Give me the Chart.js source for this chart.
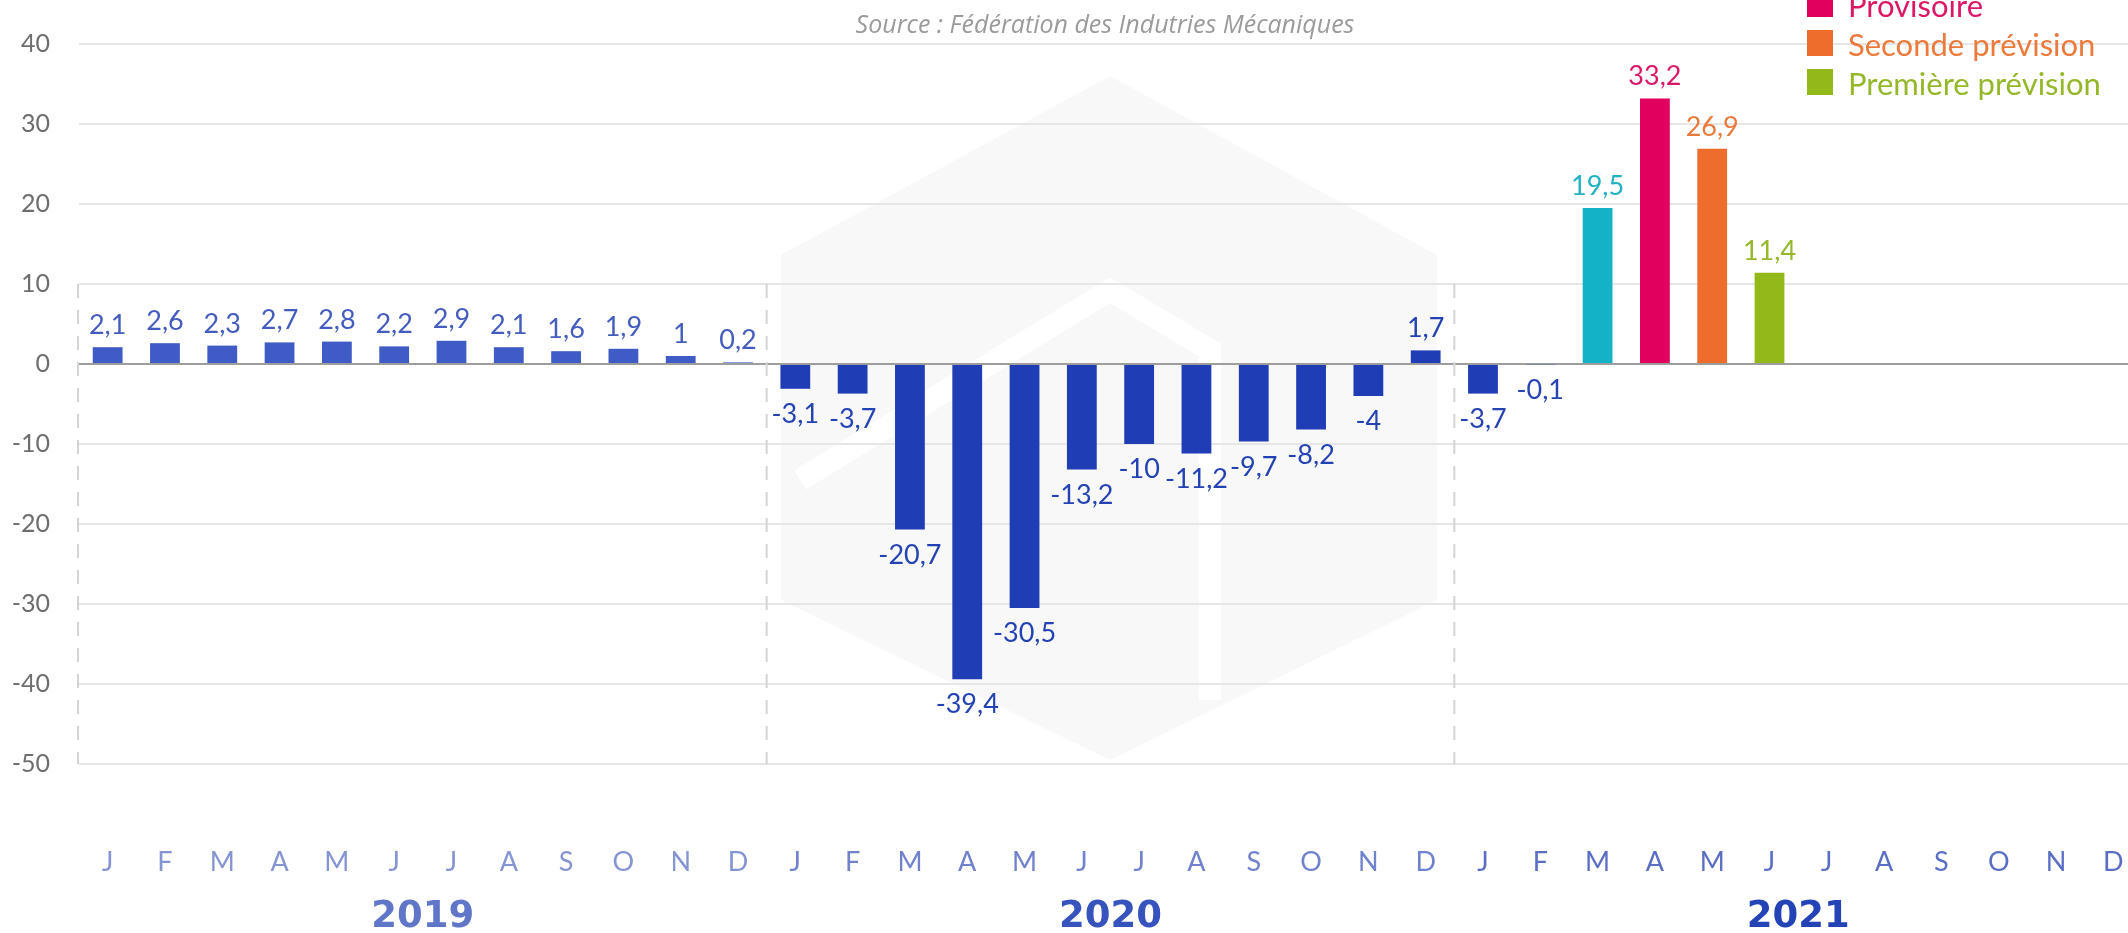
<!DOCTYPE html>
<html>
<head>
<meta charset="utf-8">
<script src="https://cdn.jsdelivr.net/npm/chart.js@4.4.0/dist/chart.umd.min.js"></script>
<style>
html,body{margin:0;padding:0;overflow:hidden;background:#fff;width:2128px;height:933px}
#c{position:absolute;left:0;top:0;display:block}
</style>
</head>
<body>
<canvas id="c" width="2142" height="933"></canvas>
<script>
// ---- data ----
const years = ['2019', '2020', '2021'];
const monthLetters = ['J','F','M','A','M','J','J','A','S','O','N','D'];
const categories = [
  '2019-01','2019-02','2019-03','2019-04','2019-05','2019-06','2019-07','2019-08','2019-09','2019-10','2019-11','2019-12',
  '2020-01','2020-02','2020-03','2020-04','2020-05','2020-06','2020-07','2020-08','2020-09','2020-10','2020-11','2020-12',
  '2021-01','2021-02','2021-03','2021-04','2021-05','2021-06','2021-07','2021-08','2021-09','2021-10','2021-11','2021-12'
];
const tickLabels = monthLetters.concat(monthLetters, monthLetters);
const values = [
  2.1, 2.6, 2.3, 2.7, 2.8, 2.2, 2.9, 2.1, 1.6, 1.9, 1, 0.2,
  -3.1, -3.7, -20.7, -39.4, -30.5, -13.2, -10, -11.2, -9.7, -8.2, -4, 1.7,
  -3.7, -0.1, 19.5, 33.2, 26.9, 11.4, null, null, null, null, null, null
];
const statuses = [
  'D','D','D','D','D','D','D','D','D','D','D','D',
  'D','D','D','D','D','D','D','D','D','D','D','D',
  'D','D','R','Provisoire','Seconde prévision','Première prévision', null, null, null, null, null, null
];
const yTicks = [-50, -40, -30, -20, -10, 0, 10, 20, 30, 40];
const legendItems = ['Provisoire', 'Seconde prévision', 'Première prévision'];
const sourceText = 'Source : Fédération des Indutries Mécaniques';

// ---- styles ----
const statusBar = {'R':'#14b2c7','Provisoire':'#e1005e','Seconde prévision':'#ee6c2c','Première prévision':'#93b81a'};
const statusText = {'R':'#22b1c3','Provisoire':'#dc1866','Seconde prévision':'#eb7a3c','Première prévision':'#94b82a'};
const yearBar = {'2019':'#3f5bc6','2020':'#1f3db5','2021':'#1f3db5'};
const yearLabel = {'2019':'#435cbe','2020':'#2342b3','2021':'#2844b3'};
const yearTitle = {'2019':'#6076c9','2020':'#3653be','2021':'#2443b7'};
const monthColor = {'2019':'#8594d3','2020':'#7082cd','2021':'#5a6ec6'};

const yearOf = i => categories[i].slice(0,4);
const barColors = values.map((v,i) => statuses[i] === 'D' ? yearBar[yearOf(i)] : (statusBar[statuses[i]] || '#000'));
const labelColors = values.map((v,i) => statuses[i] === 'D' ? yearLabel[yearOf(i)] : (statusText[statuses[i]] || '#000'));

const bgPlugin = {
  id: 'bg',
  beforeDraw(chart) {
    const c = chart.ctx;
    c.save();
    c.fillStyle = '#fff';
    c.fillRect(0, 0, chart.width, chart.height);
    // faint watermark hexagon
    c.fillStyle = '#f8f8f9';
    c.beginPath();
    c.moveTo(1110, 76);
    c.lineTo(1437, 255);
    c.lineTo(1437, 600);
    c.lineTo(1110, 760);
    c.lineTo(781, 600);
    c.lineTo(781, 255);
    c.closePath();
    c.fill();
    c.strokeStyle = '#ffffff';
    c.lineWidth = 22;
    c.beginPath();
    c.moveTo(800, 480); c.lineTo(1110, 290); c.lineTo(1210, 350); c.lineTo(1210, 700);
    c.stroke();
    c.restore();
  },
  beforeDatasetsDraw(chart) {
    const c = chart.ctx, xs = chart.scales.x, ys = chart.scales.y;
    const top = ys.getPixelForValue(10), bot = ys.getPixelForValue(-50);
    const xsList = [chart.chartArea.left - 1,
      (xs.getPixelForValue(11) + xs.getPixelForValue(12)) / 2,
      (xs.getPixelForValue(23) + xs.getPixelForValue(24)) / 2];
    c.save();
    c.strokeStyle = '#d4d4d4';
    c.lineWidth = 2;
    c.setLineDash([14, 12]);
    xsList.forEach(x => { c.beginPath(); c.moveTo(x, top); c.lineTo(x, bot); c.stroke(); });
    c.restore();
  },
  afterDatasetsDraw(chart) {
    const c = chart.ctx;
    const meta = chart.getDatasetMeta(0);
    c.save();
    c.font = '27px Lato';
    c.textAlign = 'center';
    c.textBaseline = 'alphabetic';
    meta.data.forEach((bar, i) => {
      const v = values[i];
      if (v === null) return;
      const txt = String(v).replace('.', ',');
      c.fillStyle = labelColors[i];
      const y = v >= 0 ? bar.y - 13 : bar.y + 34;
      c.fillText(txt, bar.x, y);
    });
    c.restore();
  },
  afterDraw(chart) {
    const c = chart.ctx, xs = chart.scales.x;
    c.save();
    // year titles
    c.font = 'bold 37px "DejaVu Sans"';
    c.textAlign = 'center';
    c.textBaseline = 'middle';
    years.forEach((y, k) => {
      const x = (xs.getPixelForValue(k * 12 + 5) + xs.getPixelForValue(k * 12 + 6)) / 2;
      c.fillStyle = yearTitle[y];
      c.fillText(y, x, 917);
    });
    // source
    c.font = 'italic 25px "Open Sans"';
    c.fillStyle = '#9b9b9b';
    c.textBaseline = 'alphabetic';
    c.fillText(sourceText, 1105, 33);
    // legend
    c.textAlign = 'left';
    c.font = '31px Lato';
    legendItems.forEach((name, k) => {
      const base = 17 + k * 39;
      c.fillStyle = statusBar[name];
      c.fillRect(1807, base - 26, 26, 26);
      c.fillStyle = statusText[name];
      c.fillText(name, 1848, base);
    });
    c.restore();
  }
};

new Chart(document.getElementById('c'), {
  type: 'bar',
  data: {
    labels: categories,
    datasets: [{
      data: values,
      backgroundColor: barColors,
      barPercentage: 0.52,
      categoryPercentage: 1
    }]
  },
  options: {
    responsive: false,
    animation: false,
    layout: { padding: { top: 24, left: 0, right: 0, bottom: 0 } },
    plugins: { legend: { display: false }, tooltip: { enabled: false } },
    scales: {
      x: {
        grid: { display: false },
        border: { display: false },
        ticks: {
          autoSkip: false, maxRotation: 0, minRotation: 0, padding: 74,
          font: { family: 'Lato', size: 27, weight: '400', lineHeight: 1.2 },
          color: c => monthColor[yearOf(c.index)],
          callback: (v, i) => tickLabels[i]
        },
        afterFit: s => { s.height = 169; s.paddingLeft = 0; s.paddingRight = 0; }
      },
      y: {
        min: -50, max: 40,
        afterBuildTicks: s => { s.ticks = yTicks.map(v => ({ value: v })); },
        grid: {
          color: c => (c.tick && c.tick.value === 0) ? '#9d9d9d' : '#e6e6e6',
          lineWidth: 2,
          drawTicks: false
        },
        border: { display: false },
        ticks: { padding: 29, font: { family: 'Lato', size: 25 }, color: '#6e6e6e' },
        afterFit: s => { s.width = 79; }
      }
    }
  },
  plugins: [bgPlugin]
});
</script>
</body>
</html>
